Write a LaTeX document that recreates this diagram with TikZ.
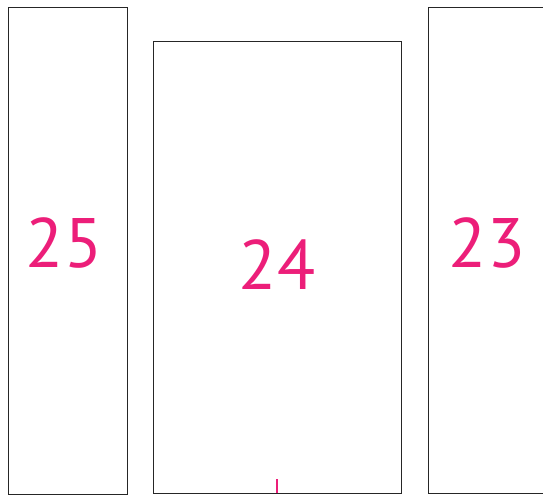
\documentclass[tikz,border=0pt]{standalone}
\usepackage{fontspec}
\setmainfont{PT Sans}
\usepackage{tikz}

\definecolor{pagepink}{RGB}{236,30,121}

\begin{document}
\begin{tikzpicture}[x=1pt, y=-1pt,
    panel/.style={draw=black!85, line width=1pt},
    num/.style={text=pagepink, font=\fontsize{70}{70}\selectfont, inner sep=0pt},
    foldmark/.style={draw=pagepink, line width=2pt}]
  \useasboundingbox (0,0) rectangle (543,495);
  \clip (0,0) rectangle (543,495);
  % the three pages
  \draw[panel] (8,7.5) rectangle (127,494.5);
  \draw[panel] (153.5,42) rectangle (401,493);
  \draw[panel] (428,8) rectangle (560,493);
  \coordinate (p25) at (64,243);
  \coordinate (p24) at (277,265);
  \coordinate (p23) at (487,243);
  \node[num] (n25) at (p25) {25};
  \node[num] (n24) at (p24) {24};
  \node[num] (n23) at (p23) {23};
  % fold mark
  \coordinate (m1) at (277,479);
  \coordinate (m2) at (277,493);
  \draw[foldmark] (m1) -- (m2);
\end{tikzpicture}
\end{document}
